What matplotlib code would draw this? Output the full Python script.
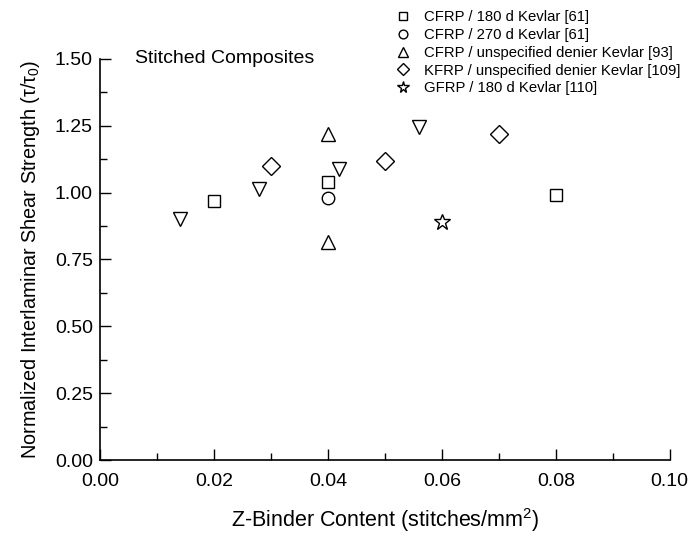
import matplotlib
matplotlib.use("Agg")
import matplotlib.pyplot as plt
from matplotlib.ticker import MultipleLocator

plt.rcParams['font.family'] = ['Liberation Sans', 'DejaVu Sans']
plt.rcParams['mathtext.fontset'] = 'custom'
plt.rcParams['mathtext.rm'] = 'Liberation Sans'
plt.rcParams['mathtext.it'] = 'Liberation Sans'

# data
sq_x = [0.02, 0.04, 0.08]
sq_y = [0.97, 1.04, 0.99]
ci_x = [0.04]
ci_y = [0.98]
up_x = [0.04, 0.04]
up_y = [1.22, 0.815]
di_x = [0.03, 0.05, 0.07]
di_y = [1.10, 1.12, 1.22]
st_x = [0.06]
st_y = [0.89]
dn_x = [0.014, 0.028, 0.042, 0.056]
dn_y = [0.90, 1.015, 1.09, 1.245]

labels = ['CFRP / 180 d Kevlar [61]',
          'CFRP / 270 d Kevlar [61]',
          'CFRP / unspecified denier Kevlar [93]',
          'KFRP / unspecified denier Kevlar [109]',
          'GFRP / 180 d Kevlar [110]']

fig = plt.figure(figsize=(6.94, 5.35), dpi=100)
ax = fig.add_axes([0.144, 0.140, 0.821, 0.750])

kw = dict(linestyle='none', mfc='white', mec='black', mew=1.0)
h1, = ax.plot(sq_x, sq_y, 's', ms=9, label=labels[0], **kw)
h2, = ax.plot(ci_x, ci_y, 'o', ms=9, label=labels[1], **kw)
h3, = ax.plot(up_x, up_y, '^', ms=10, label=labels[2], **kw)
h4, = ax.plot(di_x, di_y, 'D', ms=9, label=labels[3], **kw)
h5, = ax.plot(st_x, st_y, '*', ms=12, label=labels[4], **kw)
ax.plot(dn_x, dn_y, 'v', ms=10, **kw)
# circle drawn over square at 0.04
h2.set_zorder(3)

ax.set_xlim(0, 0.10)
ax.set_ylim(0, 1.50)
ax.xaxis.set_major_locator(MultipleLocator(0.02))
ax.xaxis.set_minor_locator(MultipleLocator(0.01))
ax.yaxis.set_major_locator(MultipleLocator(0.25))
ax.yaxis.set_minor_locator(MultipleLocator(0.125))
ax.xaxis.set_major_formatter(plt.FormatStrFormatter('%.2f'))
ax.yaxis.set_major_formatter(plt.FormatStrFormatter('%.2f'))
ax.tick_params(which='major', direction='in', length=8, width=1, labelsize=14)
ax.tick_params(axis='x', which='major', pad=9)
ax.tick_params(axis='y', which='major', pad=5)
ax.tick_params(which='minor', direction='in', length=5, width=1)
ax.spines['top'].set_visible(False)
ax.spines['right'].set_visible(False)
for s in ['left', 'bottom']:
    ax.spines[s].set_linewidth(1.2)

ax.set_xlabel('Z-Binder Content (stitches/mm$^2$)', fontsize=15.5, labelpad=12)
ax.set_ylabel(r'Normalized Interlaminar Shear Strength ($\tau$/$\tau_0$)', fontsize=14.3, labelpad=9)

ax.text(0.0061, 1.503, 'Stitched Composites', fontsize=14, va='center', ha='left')

fig.legend(handles=[h1, h2, h3, h4, h5], loc='upper left', bbox_to_anchor=(0.555, 1.0),
           frameon=False, fontsize=10.7, markerscale=0.7, handlelength=1.0,
           handletextpad=0.9, labelspacing=0.25, borderaxespad=0.3)

fig.savefig('out.png', dpi=100)
